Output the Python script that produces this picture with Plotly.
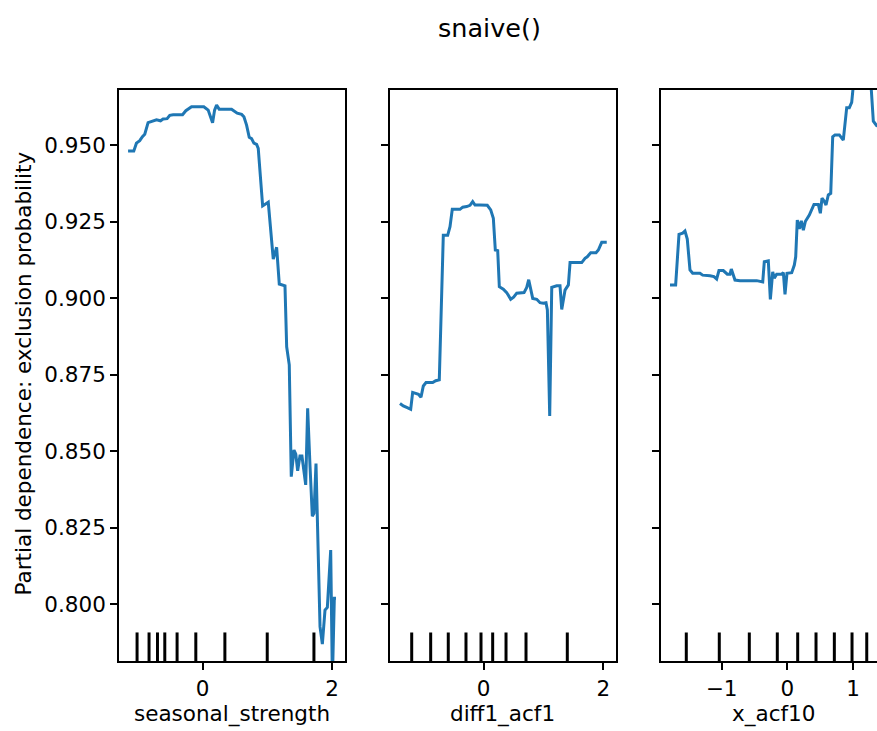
import plotly.graph_objects as go

# Partial dependence curves for three features of the snaive() exclusion model
feature_names = ["seasonal_strength", "diff1_acf1", "x_acf10"]

seasonal_strength_x = [
    -1.150, -1.062, -1.021, -0.970, -0.928, -0.892, -0.841, -0.773, -0.711, -0.649,
    -0.609, -0.547, -0.506, -0.454, -0.309, -0.258, -0.170, 0.020, 0.087, 0.155,
    0.186, 0.217, 0.257, 0.448, 0.484, 0.535, 0.603, 0.639, 0.680, 0.721,
    0.757, 0.793, 0.835, 0.860, 0.928, 0.965, 1.015, 1.092, 1.144, 1.185,
    1.273, 1.299, 1.339, 1.370, 1.412, 1.440, 1.469, 1.504, 1.535, 1.593,
    1.623, 1.660, 1.695, 1.721, 1.752, 1.814, 1.850, 1.891, 1.927, 1.979,
    2.005, 2.035, 2.061,
]
seasonal_strength_pd = [
    0.9480, 0.9480, 0.9506, 0.9514, 0.9527, 0.9535, 0.9573, 0.9579, 0.9582, 0.9579,
    0.9585, 0.9586, 0.9597, 0.9599, 0.9599, 0.9612, 0.9625, 0.9625, 0.9614, 0.9573,
    0.9614, 0.9630, 0.9617, 0.9617, 0.9612, 0.9604, 0.9600, 0.9592, 0.9565, 0.9525,
    0.9521, 0.9506, 0.9502, 0.9489, 0.9301, 0.9306, 0.9313, 0.9127, 0.9166, 0.9046,
    0.9040, 0.8841, 0.8782, 0.8417, 0.8504, 0.8490, 0.8436, 0.8484, 0.8484, 0.8390,
    0.8640, 0.8450, 0.8288, 0.8297, 0.8460, 0.7927, 0.7870, 0.7981, 0.7990, 0.8177,
    0.7750, 0.8020, 0.8020,
]

diff1_acf1_x = [
    -1.399, -1.344, -1.287, -1.220, -1.187, -1.132, -1.090, -1.048, -1.009, -0.964,
    -0.852, -0.802, -0.742, -0.675, -0.602, -0.563, -0.525, -0.396, -0.351, -0.284,
    -0.229, -0.184, -0.145, -0.062, 0.060, 0.117, 0.161, 0.194, 0.234, 0.261,
    0.328, 0.384, 0.451, 0.500, 0.552, 0.674, 0.719, 0.752, 0.819, 0.886,
    0.941, 0.996, 1.041, 1.064, 1.103, 1.137, 1.220, 1.275, 1.304, 1.359,
    1.415, 1.443, 1.638, 1.693, 1.730, 1.788, 1.877, 1.916, 1.972, 2.056,
]
diff1_acf1_pd = [
    0.8656, 0.8648, 0.8643, 0.8637, 0.8692, 0.8689, 0.8686, 0.8676, 0.8713, 0.8724,
    0.8724, 0.8730, 0.8733, 0.9205, 0.9205, 0.9233, 0.9290, 0.9290, 0.9297, 0.9299,
    0.9303, 0.9315, 0.9304, 0.9304, 0.9303, 0.9288, 0.9261, 0.9157, 0.9155, 0.9037,
    0.9029, 0.9018, 0.8996, 0.9003, 0.9016, 0.9018, 0.9035, 0.9060, 0.8999, 0.8996,
    0.8985, 0.8983, 0.8985, 0.8961, 0.8615, 0.9035, 0.9040, 0.9040, 0.8963, 0.9026,
    0.9043, 0.9116, 0.9116, 0.9130, 0.9135, 0.9148, 0.9148, 0.9157, 0.9182, 0.9182,
]

x_acf10_x = [
    -1.785, -1.699, -1.648, -1.592, -1.557, -1.522, -1.481, -1.440, -1.329, -1.288,
    -1.177, -1.116, -1.075, -1.040, -0.974, -0.913, -0.872, -0.852, -0.796, -0.720,
    -0.466, -0.374, -0.350, -0.289, -0.258, -0.222, -0.198, -0.162, -0.085, -0.060,
    -0.035, -0.005, 0.067, 0.107, 0.128, 0.152, 0.183, 0.213, 0.244, 0.274,
    0.335, 0.365, 0.406, 0.472, 0.503, 0.528, 0.558, 0.589, 0.624, 0.661,
    0.691, 0.726, 0.792, 0.852, 0.904, 0.944, 0.980, 1.005, 1.274, 1.309,
    1.360, 1.420,
]
x_acf10_pd = [
    0.9043, 0.9043, 0.9208, 0.9212, 0.9219, 0.9193, 0.9092, 0.9081, 0.9081, 0.9075,
    0.9073, 0.9070, 0.9062, 0.9090, 0.9090, 0.9078, 0.9078, 0.9095, 0.9059, 0.9057,
    0.9057, 0.9053, 0.9119, 0.9122, 0.8996, 0.9086, 0.9065, 0.9078, 0.9078, 0.9083,
    0.9012, 0.9081, 0.9083, 0.9108, 0.9135, 0.9255, 0.9226, 0.9252, 0.9222, 0.9250,
    0.9271, 0.9284, 0.9306, 0.9306, 0.9277, 0.9326, 0.9318, 0.9304, 0.9337, 0.9342,
    0.9527, 0.9533, 0.9533, 0.9516, 0.9622, 0.9622, 0.9639, 0.9695, 0.9695, 0.9578,
    0.9563, 0.9560,
]

# Feature deciles shown as a rug along the bottom of each panel
seasonal_strength_deciles = [-1.011, -0.826, -0.696, -0.583, -0.393, -0.104, 0.345, 0.999, 1.720]
diff1_acf1_deciles = [-1.203, -0.886, -0.592, -0.296, -0.045, 0.150, 0.373, 0.707, 1.397]
x_acf10_deciles = [-1.537, -1.035, -0.578, -0.152, 0.158, 0.437, 0.716, 0.985, 1.209]

y_ticks = [0.800, 0.825, 0.850, 0.875, 0.900, 0.925, 0.950]
x_ticks = [[0, 2], [0, 2], [-1, 0, 1]]
x_tick_text = [["0", "2"], ["0", "2"], ["\u22121", "0", "1"]]

title_text = "snaive()"
y_label = "Partial dependence: exclusion probability"

curves = [
    (seasonal_strength_x, seasonal_strength_pd),
    (diff1_acf1_x, diff1_acf1_pd),
    (x_acf10_x, x_acf10_pd),
]
deciles = [seasonal_strength_deciles, diff1_acf1_deciles, x_acf10_deciles]

x_ranges = [[-1.29, 2.205], [-1.566, 2.206], [-1.927, 1.365]]
x_domains = [[0.0, 0.2986], [0.3575, 0.6553], [0.7146, 1.0]]
y_range = [0.78148, 0.96796]

FONT = "DejaVu Sans"
LINE_BLUE = "#1f77b4"
TICK_SIZE = 21.5

fig = go.Figure()
shapes = []

for i, ((xs, ys), dec) in enumerate(zip(curves, deciles)):
    suffix = "" if i == 0 else str(i + 1)
    fig.add_trace(go.Scatter(
        x=xs, y=ys, mode="lines",
        line=dict(color=LINE_BLUE, width=3),
        xaxis="x" + suffix, yaxis="y" + suffix,
        showlegend=False, hoverinfo="skip",
    ))
    for d in dec:
        shapes.append(dict(
            type="line", xref="x" + suffix, yref="y" + suffix + " domain",
            x0=d, x1=d, y0=0, y1=0.05,
            line=dict(color="black", width=3),
        ))

    axis_common = dict(
        showgrid=False, zeroline=False, showline=True,
        linecolor="black", linewidth=1.6,
        ticks="outside", ticklen=7, tickwidth=1.6, tickcolor="black",
        tickfont=dict(family=FONT, size=TICK_SIZE, color="black"),
    )
    fig.layout["xaxis" + suffix] = dict(
        axis_common, domain=x_domains[i], range=x_ranges[i],
        anchor="y" + suffix, mirror=True,
        tickmode="array", tickvals=x_ticks[i], ticktext=x_tick_text[i],
    )
    fig.layout["yaxis" + suffix] = dict(
        axis_common, domain=[0, 1], range=y_range,
        anchor="x" + suffix, mirror=(i < 2),
        tickmode="array", tickvals=y_ticks,
        ticktext=[f"{v:.3f}" for v in y_ticks] if i == 0 else ["" for _ in y_ticks],
    )

annotations = [
    dict(text=title_text, xref="paper", yref="paper", x=0.4894, y=1.1086,
         xanchor="center", yanchor="middle", showarrow=False,
         font=dict(family=FONT, size=25.5, color="black")),
    dict(text=y_label, xref="paper", yref="paper", x=-0.126, y=0.5045,
         xanchor="center", yanchor="middle", textangle=-90, showarrow=False,
         font=dict(family=FONT, size=TICK_SIZE, color="black")),
]
for name, cx in zip(feature_names, [0.1493, 0.5063, 0.8637]):
    annotations.append(dict(
        text=name, xref="paper", yref="paper", x=cx, y=-0.0928,
        xanchor="center", yanchor="middle", showarrow=False,
        font=dict(family=FONT, size=TICK_SIZE, color="black"),
    ))

fig.update_layout(
    width=877, height=731,
    margin=dict(l=119, r=0, t=90, b=70),
    paper_bgcolor="white", plot_bgcolor="white",
    shapes=shapes, annotations=annotations,
    font=dict(family=FONT, color="black"),
)

fig.write_html("out.html")
